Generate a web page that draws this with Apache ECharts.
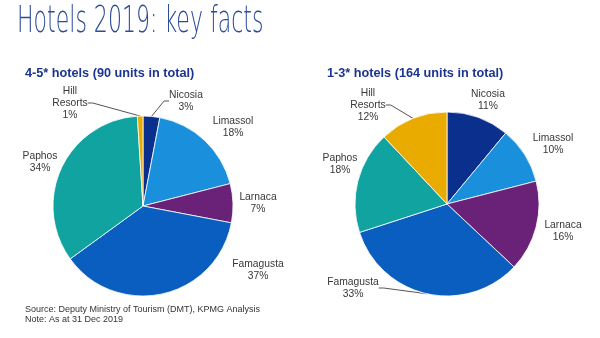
<!DOCTYPE html>
<html><head><meta charset="utf-8">
<script src="https://cdn.jsdelivr.net/npm/echarts@6/dist/echarts.min.js"></script>
<style>html,body{margin:0;padding:0;background:#fff}#c{width:600px;height:338px}</style>
</head><body><div id="c"></div>
<script>
const categories = ['Nicosia','Limassol','Larnaca','Famagusta','Paphos','Hill Resorts'];
const luxuryShares = [3, 18, 7, 37, 34, 1];      // 4-5* hotels, %
const budgetShares = [11, 10, 16, 33, 18, 12];   // 1-3* hotels, %
const colors = ['#0b2f8c','#1a8fdc','#6a2178','#0a5ec0','#10a3a0','#eaab00'];

const leftLabelPos = [[186,101],[233,127],[258,203],[258,270],[40,162],[70,103]];
const rightLabelPos = [[488,100],[553,144],[563,231],[353,288],[340,164],[368,105]];
const leftLines = ['Nicosia','Hill Resorts'];
const rightLines = ['Hill Resorts','Famagusta'];

function mkData(vals, lines){
  return categories.map((n,i)=>({
    name:n, value:vals[i], itemStyle:{color:colors[i]},
    labelLine:{show: lines.includes(n)}
  }));
}
function mkSeries(vals, center, r, pos, lines){
  return {
    type:'pie', center:center, radius:r, startAngle:90, clockwise:true,
    animation:false, silent:true,
    itemStyle:{borderColor:'#fff', borderWidth:0.8},
    label:{show:true, formatter:p=>p.name.replace(' ','\n')+'\n'+p.value+'%',
      fontFamily:'Liberation Sans, Arial, sans-serif', fontSize:10.3, lineHeight:12, color:'#383838', align:'center'},
    labelLine:{show:false, lineStyle:{color:'#555', width:1}, length:5, length2:5},
    labelLayout:function(p){
      const xy = pos[p.dataIndex];
      if(!xy) return {};
      return {x:xy[0], y:xy[1], align:'center', verticalAlign:'middle', hideOverlap:false};
    },
    data:mkData(vals, lines)
  };
}

const chart = echarts.init(document.getElementById('c'), null, {renderer:'canvas'});
chart.setOption({
  backgroundColor:'#fff',
  graphic:[
    {type:'text', left:17, top:3, scaleX:0.58, style:{text:'Hotels 2019: key facts', fill:'#2d4c9c',
      font:'normal 200 38px "DejaVu Sans", sans-serif'}},
    {type:'text', left:25, top:67, style:{text:'4-5* hotels (90 units in total)', fill:'#1b3590',
      font:'bold 12.7px "Liberation Sans", Arial, sans-serif'}},
    {type:'text', left:327, top:67, style:{text:'1-3* hotels (164 units in total)', fill:'#1b3590',
      font:'bold 12.7px "Liberation Sans", Arial, sans-serif'}},
    {type:'text', left:25, top:304, style:{text:'Source: Deputy Ministry of Tourism (DMT), KPMG Analysis\nNote: As at 31 Dec 2019', fill:'#333',
      font:'normal 9px "Liberation Sans", Arial, sans-serif', lineHeight:10.5}}
  ],
  series:[
    mkSeries(luxuryShares, [143,206], 90, leftLabelPos, leftLines),
    mkSeries(budgetShares, [447,204], 92, rightLabelPos, rightLines)
  ]
});
</script></body></html>
